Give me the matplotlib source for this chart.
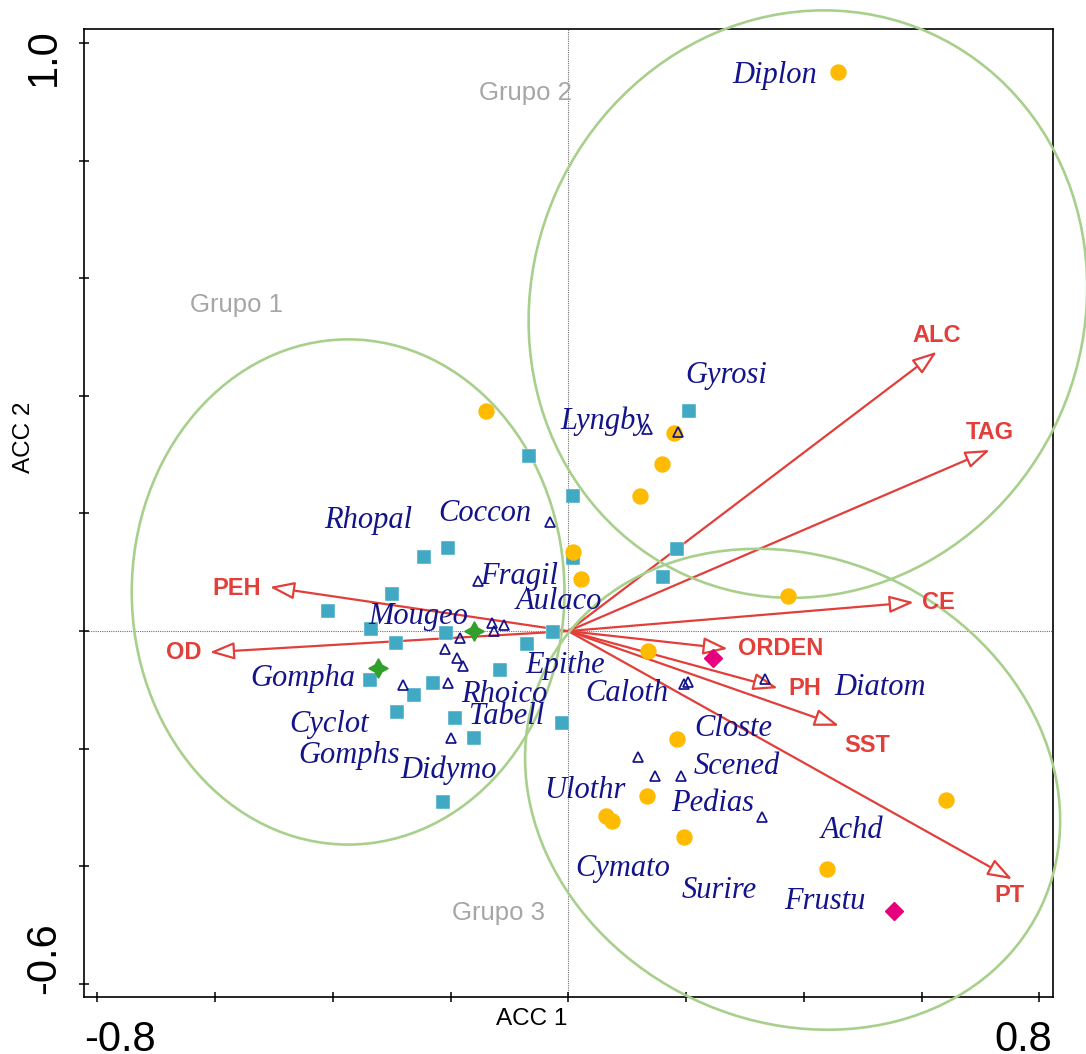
import matplotlib
matplotlib.use("Agg")
import matplotlib.pyplot as plt
from matplotlib.patches import Ellipse, FancyArrowPatch, ArrowStyle
from matplotlib.transforms import offset_copy
import numpy as np

plt.rcParams['font.family'] = ['Liberation Sans', 'DejaVu Sans']

# ---------------- data ----------------
# environmental variables (arrow tips, ACC1 / ACC2)
env_names = ['ALC', 'TAG', 'CE', 'ORDEN', 'PH', 'SST', 'PT', 'PEH', 'OD']
env_x = [0.626, 0.716, 0.587, 0.271, 0.356, 0.460, 0.754, -0.507, -0.609]
env_y = [0.475, 0.308, 0.049, -0.030, -0.097, -0.161, -0.422, 0.075, -0.036]
env_lab_x = [0.626, 0.716, 0.628, 0.288, 0.373, 0.507, 0.750, -0.563, -0.654]
env_lab_y = [0.502, 0.337, 0.049, -0.029, -0.097, -0.194, -0.449, 0.073, -0.037]
env_lab_ha = ['center', 'center', 'center', 'left', 'left', 'center', 'center', 'center', 'center']

# species labels
sp_names = ['Diplon', 'Gyrosi', 'Lyngby', 'Rhopal', 'Coccon', 'Fragil', 'Aulaco',
            'Mougeo', 'Epithe', 'Gompha', 'Rhoico', 'Caloth', 'Diatom', 'Tabell',
            'Cyclot', 'Closte', 'Gomphs', 'Didymo', 'Scened', 'Ulothr', 'Pedias',
            'Achd', 'Cymato', 'Surire', 'Frustu']
sp_x = [0.351, 0.268, 0.062, -0.339, -0.141, -0.084, -0.016,
        -0.255, -0.006, -0.451, -0.109, 0.100, 0.529, -0.104,
        -0.406, 0.281, -0.372, -0.203, 0.287, 0.028, 0.246,
        0.482, 0.093, 0.256, 0.436]
sp_y = [0.951, 0.441, 0.362, 0.194, 0.206, 0.099, 0.056,
        0.031, -0.053, -0.075, -0.102, -0.100, -0.090, -0.139,
        -0.153, -0.160, -0.206, -0.231, -0.224, -0.265, -0.287,
        -0.333, -0.398, -0.435, -0.454]

# species points (open triangles)
tri_x = [-0.031, -0.153, -0.130, -0.109, -0.126, -0.184, -0.209, -0.189, -0.179,
         0.134, 0.186, -0.281, -0.204, -0.199, 0.203, 0.197, 0.334, 0.118,
         0.147, 0.191, 0.329]
tri_y = [0.186, 0.085, 0.014, 0.010, 0.000, -0.012, -0.030, -0.046, -0.059,
         0.344, 0.339, -0.092, -0.088, -0.182, -0.087, -0.090, -0.081, -0.214,
         -0.246, -0.246, -0.316]

# sites: squares
sq_x = [-0.067, 0.008, 0.008, -0.204, -0.245, -0.299, -0.408, -0.335, -0.208, -0.026,
        -0.293, -0.070, -0.116, -0.337, -0.262, -0.230, -0.291, -0.192, -0.160, -0.213,
        -0.011, 0.205, 0.185, 0.161]
sq_y = [0.298, 0.230, 0.124, 0.141, 0.126, 0.063, 0.034, 0.004, -0.003, -0.002,
        -0.020, -0.022, -0.066, -0.083, -0.109, -0.088, -0.138, -0.148, -0.182, -0.291,
        -0.156, 0.374, 0.140, 0.092]

# sites: circles
ci_x = [0.458, -0.140, 0.180, 0.159, 0.122, 0.008, 0.022, 0.373, 0.135, 0.185,
        0.134, 0.064, 0.074, 0.197, 0.642, 0.439]
ci_y = [0.951, 0.374, 0.337, 0.284, 0.230, 0.135, 0.089, 0.060, -0.034, -0.183,
        -0.280, -0.314, -0.323, -0.350, -0.287, -0.405]

# sites: stars and diamonds
st_x = [-0.160, -0.323]
st_y = [0.000, -0.063]
di_x = [0.246, 0.553]
di_y = [-0.046, -0.476]

# group ellipses
ell_cx = [-0.374, 0.407, 0.381]
ell_cy = [0.0665, 0.556, -0.269]
ell_w = [0.735, 1.011, 0.934]
ell_h = [0.859, 0.936, 0.789]
ell_ang = [0, 66, -25.5]

grp_names = ['Grupo 1', 'Grupo 2', 'Grupo 3']
grp_x = [-0.564, -0.072, -0.118]
grp_y = [0.558, 0.918, -0.476]

xticks = [-0.8, -0.6, -0.4, -0.2, 0.0, 0.2, 0.4, 0.6, 0.8]
yticks = [-0.6, -0.4, -0.2, 0.0, 0.2, 0.4, 0.6, 0.8, 1.0]

# ---------------- colours ----------------
RED = '#e23e3a'
NAVY = '#14148a'
GREEN_ELL = '#a8d08c'
ORANGE = '#ffbb00'
TEAL = '#41a9c4'
STAR = '#2fa02a'
MAG = '#e6007e'
GREY = '#a6a6a6'

# ---------------- figure ----------------
W, H = 1086, 1054
fig = plt.figure(figsize=(W / 100, H / 100), dpi=100)
ax = fig.add_axes([84 / W, 1 - 997 / H, (1053 - 84) / W, (997 - 29) / H])
ax.set_xlim(-0.8226, 0.8233)
ax.set_ylim(-0.6222, 1.0238)

for s in ax.spines.values():
    s.set_linewidth(1.2)
ax.set_xticks(xticks)
ax.set_yticks(yticks)
ax.tick_params(direction='inout', length=7, width=1.1,
               labelbottom=False, labelleft=False)

# tick labels (only the extremes are labelled)
tk = dict(fontsize=30, color='black')
ax.text(-0.761, -0.0238, '-0.8', transform=ax.get_xaxis_transform(),
        ha='center', va='top', **tk)
ax.text(0.772, -0.0238, '0.8', transform=ax.get_xaxis_transform(),
        ha='center', va='top', **tk)
ax.text(-0.0413, 0.976, '1.0', transform=ax.get_yaxis_transform(),
        ha='center', va='center', rotation=90, **tk)
ax.text(-0.0413, -0.556, '-0.6', transform=ax.get_yaxis_transform(),
        ha='center', va='center', rotation=90, **tk)

ax.set_xlabel('ACC 1', fontsize=17.5)
ax.xaxis.set_label_coords(0.4623, -0.0227)
ax.xaxis.label.set_va('center')
ax.set_ylabel('ACC 2', fontsize=17.5)
ax.yaxis.set_label_coords(-0.0619, 0.5785)
ax.yaxis.label.set_va('center')

# crosshair
ax.axhline(0, color='#707070', lw=0.8, ls=(0, (1, 1)), zorder=1)
ax.axvline(0, color='#707070', lw=0.8, ls=(0, (1, 1)), zorder=1)

# arrows
style = ArrowStyle('-|>', head_length=15, head_width=5.3)
for x, y in zip(env_x, env_y):
    arr = FancyArrowPatch((0, 0), (x, y), arrowstyle=style, mutation_scale=1,
                          shrinkA=0, shrinkB=0, lw=1.6, edgecolor=RED,
                          facecolor='white', zorder=2)
    ax.add_patch(arr)
for n, x, y, ha in zip(env_names, env_lab_x, env_lab_y, env_lab_ha):
    ax.text(x, y, n, color=RED, fontsize=17, fontweight='bold',
            ha=ha, va='center', zorder=8)

# ellipses
for cx, cy, w, h, a in zip(ell_cx, ell_cy, ell_w, ell_h, ell_ang):
    e = Ellipse((cx, cy), w, h, angle=a, fill=False, ec=GREEN_ELL, lw=1.9,
                clip_on=False, zorder=3)
    ax.add_patch(e)

# points
ax.plot(sq_x, sq_y, 's', ms=10.5, color=TEAL, mec='white', mew=0.3,
        ls='none', zorder=4)
ax.plot(ci_x, ci_y, 'o', ms=10.8, color=ORANGE, mec=ORANGE, ls='none', zorder=5)
ax.plot(tri_x, tri_y, '^', ms=6.8, mfc='none', mec=NAVY, mew=1.25,
        ls='none', zorder=6)
ax.plot(st_x, st_y, marker=(4, 1, 0), ms=14, color=STAR, ls='none', zorder=6)
ax.plot(di_x, di_y, 'D', ms=9.5, color=MAG, ls='none', zorder=6)

# species labels (small downward offset so the glyph body sits on the point)
sp_tr = offset_copy(ax.transData, fig=fig, x=0, y=-3.5, units='dots')
for n, x, y in zip(sp_names, sp_x, sp_y):
    ax.text(x, y, n, fontsize=22, color=NAVY, style='italic',
            family=['Liberation Serif', 'DejaVu Serif'],
            ha='center', va='center', zorder=9, transform=sp_tr)

# group labels
gr_tr = offset_copy(ax.transData, fig=fig, x=0, y=-2, units='dots')
for n, x, y in zip(grp_names, grp_x, grp_y):
    ax.text(x, y, n, fontsize=18.5, color=GREY, ha='center', va='center',
            zorder=9, transform=gr_tr)

fig.savefig('out.png', dpi=100)
